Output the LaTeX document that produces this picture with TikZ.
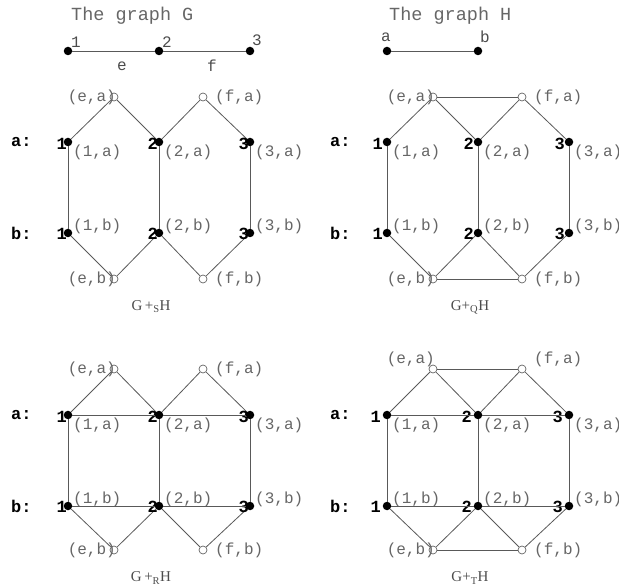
\documentclass[tikz,border=0pt]{standalone}
\usepackage{fontspec}
\setmainfont{Liberation Serif}
\setmonofont{Liberation Mono}
\tikzset{
 fv/.style={circle,fill=black,inner sep=0pt,minimum size=8.5pt},
 ov/.style={circle,draw=black!60,fill=white,line width=0.7pt,inner sep=0pt,minimum size=8pt},
 ed/.style={draw=black!65,line width=0.8pt},
 lab/.style={font=\ttfamily\fontsize{16}{16}\selectfont,text=black!60,inner sep=0pt},
 bnum/.style={font=\ttfamily\bfseries\fontsize{17}{17}\selectfont,text=black,inner sep=0pt},
 ttl/.style={font=\ttfamily\fontsize{18.5}{18.5}\selectfont,text=black!60,inner sep=0pt},
 captxt/.style={font=\fontsize{15}{15}\selectfont,text=black!70,inner sep=0pt},
}
% #1 prefix, #2 x offset, #3 ytop, #4 ya, #5 yb, #6 ybot, #7 digit gap, #8 top label dy, #9 caption
\newcommand\mkpanel[9]{%
 \node[ov] (#1ea) at ({#2+114},#3) {};
 \node[ov] (#1fa) at ({#2+203},#3) {};
 \node[fv] (#11a) at ({#2+68},#4) {};
 \node[fv] (#12a) at ({#2+159},#4) {};
 \node[fv] (#13a) at ({#2+250},#4) {};
 \node[fv] (#11b) at ({#2+68},#5) {};
 \node[fv] (#12b) at ({#2+159},#5) {};
 \node[fv] (#13b) at ({#2+250},#5) {};
 \node[ov] (#1eb) at ({#2+114},#6) {};
 \node[ov] (#1fb) at ({#2+203},#6) {};
 \draw[ed] (#11a) -- (#1ea) -- (#12a) -- (#1fa) -- (#13a);
 \draw[ed] (#11b) -- (#1eb) -- (#12b) -- (#1fb) -- (#13b);
 \draw[ed] (#11a) -- (#11b);
 \draw[ed] (#12a) -- (#12b);
 \draw[ed] (#13a) -- (#13b);
 \node[lab,anchor=east] (#1Lea) at ({#2+116},{#3+#8}) {(e,a)};
 \node[lab,anchor=west] (#1Lfa) at ({#2+215},{#3+#8}) {(f,a)};
 \node[lab,anchor=east] (#1Leb) at ({#2+116},#6) {(e,b)};
 \node[lab,anchor=west] (#1Lfb) at ({#2+215},#6) {(f,b)};
 \node[lab,anchor=west] (#1L1a) at ({#2+73},{#4+10}) {(1,a)};
 \node[lab,anchor=west] (#1L2a) at ({#2+164},{#4+10}) {(2,a)};
 \node[lab,anchor=west] (#1L3a) at ({#2+255},{#4+10}) {(3,a)};
 \node[lab,anchor=west] (#1L1b) at ({#2+73},{#5-7}) {(1,b)};
 \node[lab,anchor=west] (#1L2b) at ({#2+164},{#5-7}) {(2,b)};
 \node[lab,anchor=west] (#1L3b) at ({#2+255},{#5-7}) {(3,b)};
 \node[bnum,anchor=east] (#1N1a) at ({#2+68-#7},{#4+2}) {1};
 \node[bnum,anchor=east] (#1N2a) at ({#2+159-#7},{#4+2}) {2};
 \node[bnum,anchor=east] (#1N3a) at ({#2+250-#7},{#4+2}) {3};
 \node[bnum,anchor=east] (#1N1b) at ({#2+68-#7},{#5+1}) {1};
 \node[bnum,anchor=east] (#1N2b) at ({#2+159-#7},{#5+1}) {2};
 \node[bnum,anchor=east] (#1N3b) at ({#2+250-#7},{#5+1}) {3};
 \node[bnum,anchor=west] (#1Ra) at ({#2+11},{#4}) {a:};
 \node[bnum,anchor=west] (#1Rb) at ({#2+11},{#5}) {b:};
 \node[captxt] (#1cap) at ({#2+151},{#6+28}) {#9};
}
\begin{document}
\begin{tikzpicture}[x=1pt,y=-1pt]
\useasboundingbox (0,0) rectangle (619,585);
% graph G
\node[ttl,anchor=west] (tG) at (71,16) {The graph G};
\node[fv] (g1) at (68,51) {};
\node[fv] (g2) at (159,51) {};
\node[fv] (g3) at (250,51) {};
\draw[ed] (g1) -- (g2) -- (g3);
\node[lab,text=black!70] (lg1) at (76,42) {1};
\node[lab,text=black!70] (lg2) at (167,42) {2};
\node[lab,text=black!70] (lg3) at (257,40) {3};
\node[lab,text=black!70] (le) at (122,66) {e};
\node[lab,text=black!70] (lf) at (212,66) {f};
% graph H
\node[ttl,anchor=west] (tH) at (389,16) {The graph H};
\node[fv] (ha) at (387,51) {};
\node[fv] (hb) at (478,51) {};
\draw[ed] (ha) -- (hb);
\node[lab,text=black!70] (lha) at (386,37) {a};
\node[lab,text=black!70] (lhb) at (485,37) {b};
% panels
\mkpanel{S}{0}{97}{142}{233}{279}{1}{0}{G\,+\textsubscript{S}H}
\mkpanel{Q}{319}{97}{142}{233}{279}{4}{0}{G+\textsubscript{Q}H}
\draw[ed] (Qea) -- (Qfa);
\draw[ed] (Qeb) -- (Qfb);
\mkpanel{R}{0}{369}{415}{506}{550}{1}{0}{G\,+\textsubscript{R}H}
\draw[ed] (R1a) -- (R2a) -- (R3a);
\draw[ed] (R1b) -- (R2b) -- (R3b);
\mkpanel{T}{319}{369}{415}{506}{550}{6}{-10}{G+\textsubscript{T}H}
\draw[ed] (Tea) -- (Tfa);
\draw[ed] (Teb) -- (Tfb);
\draw[ed] (T1a) -- (T2a) -- (T3a);
\draw[ed] (T1b) -- (T2b) -- (T3b);
\end{tikzpicture}
\end{document}
